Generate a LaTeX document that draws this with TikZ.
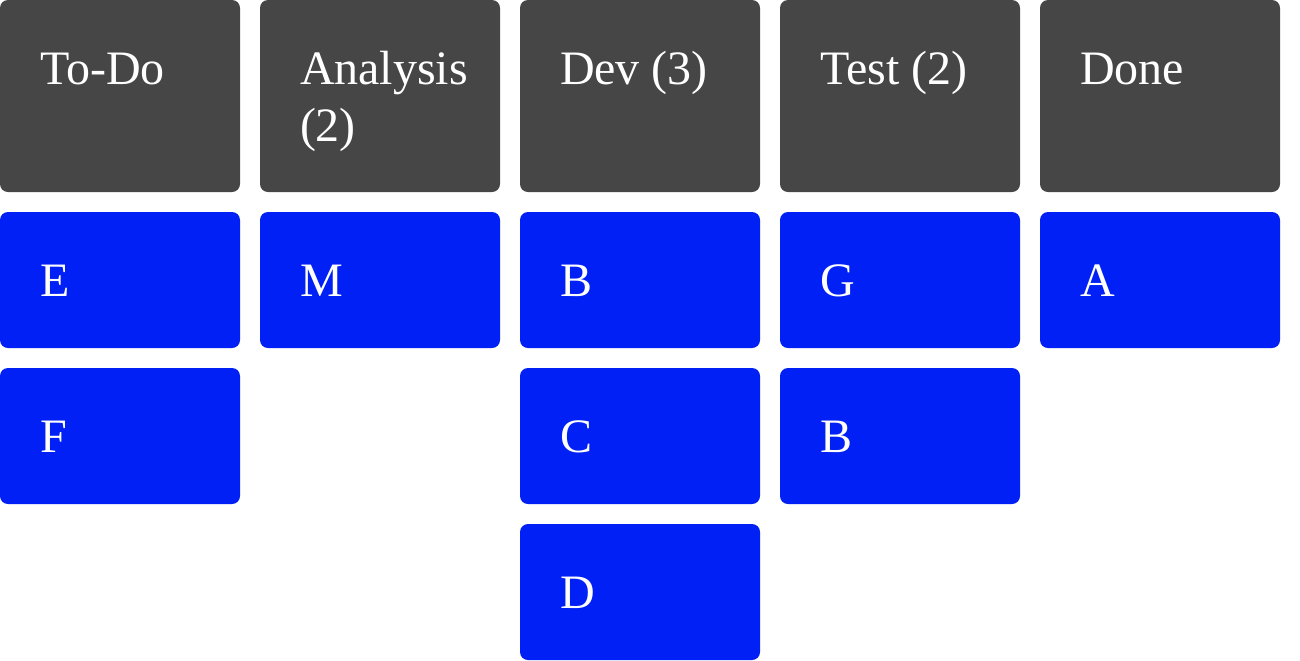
\documentclass[tikz,border=0pt]{standalone}
\usepackage{fontspec}
\setmainfont{Liberation Serif}
\usepackage{xcolor}
\definecolor{colorHeader}{RGB}{70,70,70}
\definecolor{colorCard}{RGB}{0,32,245}
\usepackage{tikz}
\usetikzlibrary{positioning}
\tikzset{tag/.style={anchor=base west, xshift=20pt, yshift=-42pt, text=white, align=left, inner sep=0pt, font=\fontsize{24}{28.5}\selectfont}}

\begin{document}
\begin{tikzpicture}[node distance=10pt, every node/.style={inner sep=0pt, outer sep=0pt},
  column/.style={fill=colorHeader, rounded corners=4pt, minimum width=120pt, minimum height=96pt},
  card/.style={fill=colorCard, rounded corners=4pt, minimum width=120pt, minimum height=68pt}]
\useasboundingbox (0,0) rectangle (650pt,-330pt);
\node[column, anchor=north west, label={[tag]north west:To-Do}] (hTodo) at (0,0) {};
\node[column, right=of hTodo, label={[tag, yshift=-28.5pt]north west:Analysis\\(2)}] (hAnalysis) {};
\node[column, right=of hAnalysis, label={[tag]north west:Dev (3)}] (hDev) {};
\node[column, right=of hDev, label={[tag]north west:Test (2)}] (hTest) {};
\node[column, right=of hTest, label={[tag]north west:Done}] (hDone) {};
% cards
\node[card, below=of hTodo, label={[tag]north west:E}] (cE) {};
\node[card, below=of cE, label={[tag]north west:F}] (cF) {};
\node[card, below=of hAnalysis, label={[tag]north west:M}] (cM) {};
\node[card, below=of hDev, label={[tag]north west:B}] (cB) {};
\node[card, below=of cB, label={[tag]north west:C}] (cC) {};
\node[card, below=of cC, label={[tag]north west:D}] (cD) {};
\node[card, below=of hTest, label={[tag]north west:G}] (cG) {};
\node[card, below=of cG, label={[tag]north west:B}] (cB2) {};
\node[card, below=of hDone, label={[tag]north west:A}] (cA) {};
\end{tikzpicture}
\end{document}
